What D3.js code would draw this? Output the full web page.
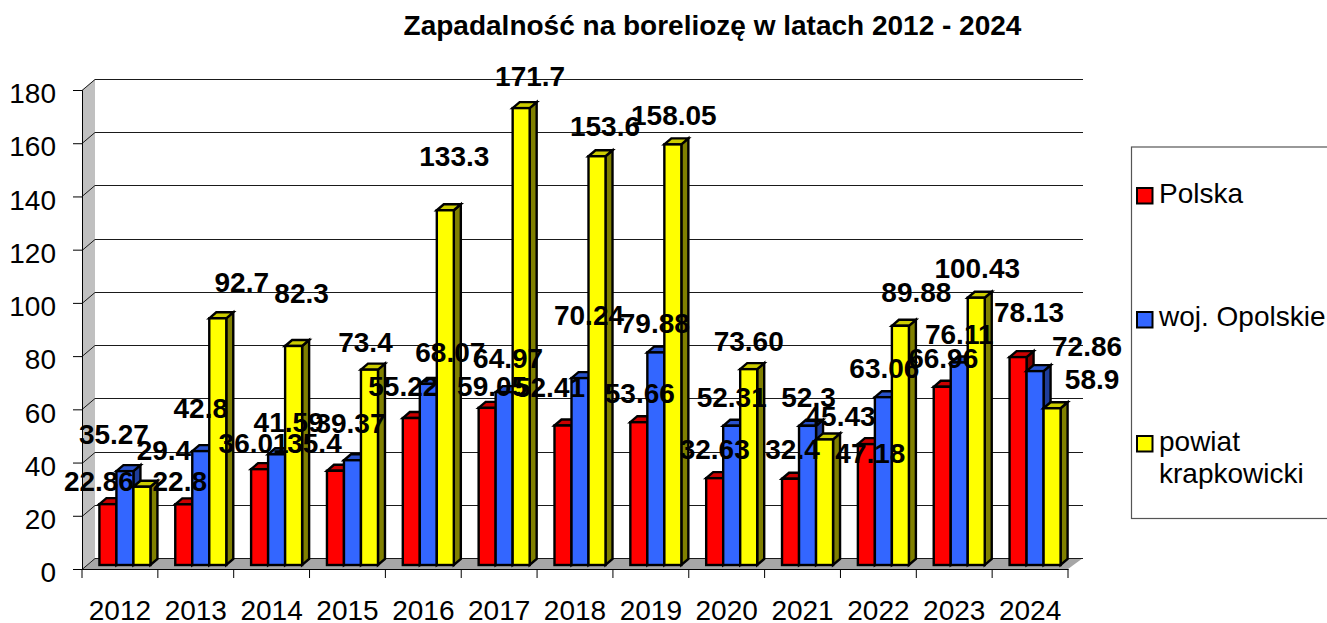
<!DOCTYPE html>
<html>
<head>
    <meta charset="utf-8">
    <title>Zapadalność na boreliozę</title>
    <script src="https://cdn.jsdelivr.net/npm/d3@7"></script>
    <style>
        html, body { margin: 0; background: #fff; overflow: hidden; }
        svg { display: block; }
        text { font-family: "Liberation Sans", Arial, sans-serif; fill: #000; }
    </style>
</head>
<body>
    <div id="container"></div>
    <script>
        const years = ["2012", "2013", "2014", "2015", "2016", "2017", "2018", "2019", "2020", "2021", "2022", "2023", "2024"];
        const seriesNames = ["Polska", "woj. Opolskie", "powiat krapkowicki"];
        const yTicks = [0, 20, 40, 60, 80, 100, 120, 140, 160, 180];

        const polska = [22.86, 22.8, 36.01, 35.4, 55.22, 59.05, 52.41, 53.66, 32.63, 32.4, 45.43, 66.96, 78.13];
        const opolskie = [35.27, 42.8, 41.59, 39.37, 68.07, 64.97, 70.24, 79.88, 52.31, 52.3, 63.06, 76.11, 72.86];
        const krapkowicki = [29.4, 92.7, 82.3, 73.4, 133.3, 171.7, 153.6, 158.05, 73.6, 47.18, 89.88, 100.43, 58.9];

        // label text as printed (2021/2022 labels are swapped in the source chart)
        const polskaLabels = ["22.86", "22.8", "36.01", "35.4", "55.22", "59.05", "52.41", "53.66", "32.63", "32.4", "47.18", "66.96", "78.13"];
        const opolskieLabels = ["35.27", "42.8", "41.59", "39.37", "68.07", "64.97", "70.24", "79.88", "52.31", "52.3", "63.06", "76.11", "72.86"];
        const krapkowickiLabels = ["29.4", "92.7", "82.3", "73.4", "133.3", "171.7", "153.6", "158.05", "73.60", "45.43", "89.88", "100.43", "58.9"];

        // the labels were dragged by hand in the original: nudge [dx, dy] from each bar's top centre
        const polskaNudge = [[-9, -13], [-4, -13], [-6, -16], [-21, -18], [-8, -22], [5, -12], [-13, -29], [1, -19], [0, -19], [2, -20], [4, 19], [1, -19], [11, -35]];
        const opolskieNudge = [[-11, -27], [0, -33], [12, -22], [-2, -27], [22, -22], [4, -24], [9, -53], [-1, -19], [0, -19], [1, -19], [1, -19], [0, -18], [52, -15]];
        const krapkowickiNudge = [[22, -27], [24, -26], [8, -43], [-4, -18], [9, -44], [9, -22], [8, -20], [1, -19], [0, -18], [16, -13], [16, -24], [1, -20], [40, -19]];

        const seriesValues = [polska, opolskie, krapkowicki];
        const seriesLabels = [polskaLabels, opolskieLabels, krapkowickiLabels];
        const seriesNudge = [polskaNudge, opolskieNudge, krapkowickiNudge];

        const colors = [
            { front: "#ff0000", side: "#800000", top: "#cc0000" },
            { front: "#3366ff", side: "#1f3d99", top: "#2952cc" },
            { front: "#ffff00", side: "#808000", top: "#cccc00" }
        ];

        const width = 1327;
        const height = 623;
        const fontSize = 28;

        // depth of the floor and of one bar
        const wallDx = 13, wallDy = 11;
        const barDx = 7, barDy = 6;
        const barShift = 5;

        const x0 = 82, x1 = 1068;
        const yFront = d3.scaleLinear().domain([0, 180]).range([569, 90]);
        const yBar = d3.scaleLinear().domain([0, 180]).range([565, 86]);
        const xCat = d3.scaleBand().domain(years).range([x0, x1]);
        const xSeries = d3.scaleBand().domain(seriesNames).range([0, xCat.bandwidth()]).paddingInner(0).paddingOuter(0.73);

        const svg = d3.select("#container")
            .append("svg")
            .attr("width", width)
            .attr("height", height);

        // title
        svg.append("text")
            .attr("x", 712.5)
            .attr("y", 35)
            .attr("text-anchor", "middle")
            .attr("font-size", 28)
            .attr("font-weight", "bold")
            .text("Zapadalność na boreliozę w latach 2012 - 2024");

        // left wall and floor
        const poly = d3.line();
        svg.append("path")
            .attr("d", poly([[x0, yFront(180)], [x0 + wallDx, yFront(180) - wallDy], [x0 + wallDx, yFront(0) - wallDy], [x0, yFront(0)]]) + "Z")
            .attr("fill", "#c0c0c0");
        svg.append("path")
            .attr("d", poly([[x0, yFront(0)], [x1, yFront(0)], [x1 + 15, yFront(0) - wallDy], [x0 + wallDx, yFront(0) - wallDy]]) + "Z")
            .attr("fill", "#a6a6a6");

        // gridlines run along the back wall, with a slanted piece over the side wall
        svg.selectAll(".grid")
            .data(yTicks)
            .enter()
            .append("path")
            .attr("class", "grid")
            .attr("fill", "none")
            .attr("stroke", "#1a1a1a")
            .attr("stroke-width", 1)
            .attr("d", function (d) {
                const y = Math.round(yFront(d)) + 0.5;
                return poly([[x0, y], [x0 + wallDx, y - wallDy], [x1 + 15, y - wallDy]]);
            });

        // axes
        const yAxis = d3.axisLeft(yFront).tickValues(yTicks).tickSize(9).tickPadding(17);
        const yAxisG = svg.append("g")
            .attr("transform", "translate(" + x0 + ",0)")
            .call(yAxis);
        yAxisG.selectAll("text").attr("dy", "0.455em");

        const xAxis = d3.axisBottom(xCat).tickSize(0).tickPadding(0);
        const xAxisG = svg.append("g")
            .attr("transform", "translate(0," + yFront(0) + ")")
            .call(xAxis);
        xAxisG.selectAll("text").attr("dy", null).attr("y", 51);

        svg.selectAll(".xtick")
            .data(years.concat("end"))
            .enter()
            .append("line")
            .attr("class", "xtick")
            .attr("x1", function (d) { return d === "end" ? x1 : xCat(d); })
            .attr("x2", function (d) { return d === "end" ? x1 : xCat(d); })
            .attr("y1", yFront(0))
            .attr("y2", yFront(0) + 9)
            .attr("stroke", "#000");

        svg.selectAll(".domain, .tick line").attr("stroke", "#000");
        svg.selectAll("g text").attr("font-size", fontSize).attr("font-family", null);

        // bars: red, blue, yellow in each year so that later bars cover the earlier sides
        const barW = xSeries.bandwidth();
        const barRows = [];
        years.forEach(function (year, i) {
            seriesNames.forEach(function (name, s) {
                barRows.push({
                    s: s,
                    value: seriesValues[s][i],
                    label: seriesLabels[s][i],
                    nudge: seriesNudge[s][i],
                    x: xCat(year) + xSeries(name) + barShift,
                    y: yBar(seriesValues[s][i])
                });
            });
        });

        const bars = svg.selectAll(".bar")
            .data(barRows)
            .enter()
            .append("g")
            .attr("class", "bar")
            .attr("stroke", "#000")
            .attr("stroke-width", 2.4)
            .attr("stroke-linejoin", "miter");

        bars.append("path")
            .attr("fill", function (d) { return colors[d.s].side; })
            .attr("d", function (d) {
                const r = d.x + barW, b = yBar(0);
                return poly([[r, d.y], [r + barDx, d.y - barDy], [r + barDx, b - barDy], [r, b]]) + "Z";
            });
        bars.append("path")
            .attr("fill", function (d) { return colors[d.s].top; })
            .attr("d", function (d) {
                return poly([[d.x, d.y], [d.x + barDx, d.y - barDy], [d.x + barW + barDx, d.y - barDy], [d.x + barW, d.y]]) + "Z";
            });
        bars.append("rect")
            .attr("fill", function (d) { return colors[d.s].front; })
            .attr("x", function (d) { return d.x; })
            .attr("y", function (d) { return d.y; })
            .attr("width", barW)
            .attr("height", function (d) { return yBar(0) - d.y; });

        // data labels
        svg.selectAll(".label")
            .data(barRows)
            .enter()
            .append("text")
            .attr("class", "label")
            .attr("text-anchor", "middle")
            .attr("font-size", fontSize)
            .attr("font-weight", "bold")
            .attr("x", function (d) { return d.x + barW / 2 + d.nudge[0]; })
            .attr("y", function (d) { return d.y + d.nudge[1]; })
            .text(function (d) { return d.label; });

        // legend
        svg.append("rect")
            .attr("x", 1131.5)
            .attr("y", 147)
            .attr("width", 220)
            .attr("height", 371.5)
            .attr("fill", "#fff")
            .attr("stroke", "#555")
            .attr("stroke-width", 1.2);

        const legendRows = [
            { s: 0, top: 188, lines: ["Polska"], base: 203 },
            { s: 1, top: 312, lines: ["woj. Opolskie"], base: 326 },
            { s: 2, top: 436, lines: ["powiat", "krapkowicki"], base: 451 }
        ];
        const legend = svg.selectAll(".legend")
            .data(legendRows)
            .enter()
            .append("g")
            .attr("class", "legend");
        legend.append("rect")
            .attr("x", 1137)
            .attr("y", function (d) { return d.top; })
            .attr("width", 15.5)
            .attr("height", 15.5)
            .attr("fill", function (d) { return colors[d.s].front; })
            .attr("stroke", "#000")
            .attr("stroke-width", 2);
        legend.each(function (d) {
            d3.select(this).selectAll("text")
                .data(d.lines)
                .enter()
                .append("text")
                .attr("x", 1159)
                .attr("y", function (t, i) { return d.base + i * 32; })
                .attr("font-size", fontSize)
                .text(function (t) { return t; });
        });
    </script>
</body>
</html>
